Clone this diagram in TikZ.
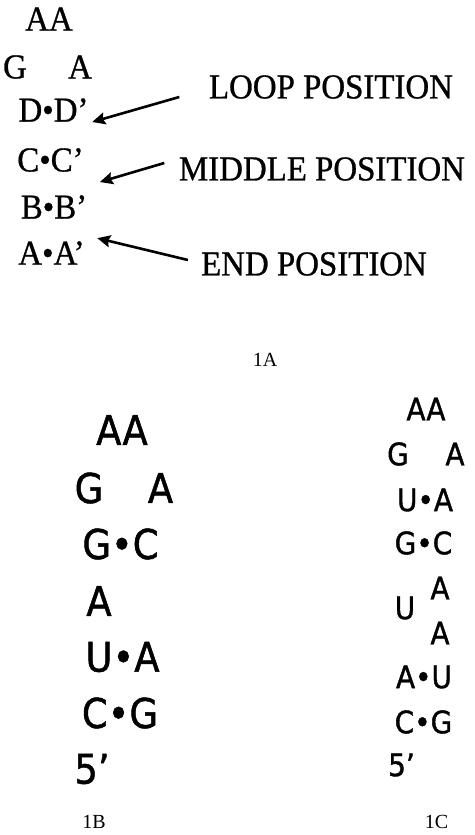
\documentclass[tikz,border=0pt]{standalone}
\usepackage{fontspec}
\setmainfont{Liberation Serif}
\newfontfamily\pairfont{Liberation Serif}[FakeStretch=0.94,FakeBold=0.8]
\newfontfamily\rnafont{DejaVu Sans Condensed}[FakeBold=1.2]
\usetikzlibrary{arrows.meta}

\tikzset{
  pairA/.style={inner sep=0, font=\pairfont\fontsize{35}{35}\selectfont},
  posname/.style={inner sep=0, font=\pairfont\fontsize{35}{35}\selectfont},
  stemB/.style={inner sep=0, font=\rnafont\fontsize{41}{41}\selectfont},
  stemC/.style={inner sep=0, font=\rnafont\fontsize{31}{31}\selectfont},
  panel/.style={inner sep=0, font=\fontsize{20}{20}\selectfont},
  pointer/.style={-{Stealth[length=13pt,width=12pt,inset=2pt]}, line width=2.6pt}
}

\begin{document}
\begin{tikzpicture}[x=1pt, y=-1pt]
\useasboundingbox (0,0) rectangle (474,835);

% 1A: generic hairpin
\node [pairA] (loopaa) at (49,19)  {AA};
\node [pairA] (loopg)  at (15,67)  {G};
\node [pairA] (loopa)  at (80,67)  {A};
\node [pairA] (dd)     at (53.5,110) {D•D’};
\node [pairA] (cc)     at (50.5,160) {C•C’};
\node [pairA] (bb)     at (54,207) {B•B’};
\node [pairA] (aa)     at (51.5,253) {A•A’};

\node [posname] (loop)   at (331,87)  {LOOP POSITION};
\node [posname] (middle) at (322,169) {MIDDLE POSITION};
\node [posname] (endpos) at (314,264) {END POSITION};

\draw [pointer] ([xshift=-29.5pt,yshift=-10pt]loop.west) -- ([xshift=3.5pt,yshift=-12pt]dd.east);
\draw [pointer] ([xshift=-14.5pt,yshift=6pt]middle.west) -- ([xshift=16pt,yshift=-10pt]cc.south east);
\draw [pointer] ([xshift=-13pt,yshift=4pt]endpos.west) -- ([xshift=12.4pt,yshift=3pt]aa.north east);

\node [panel] (tagA) at (265,360) {1A};

% 1B
\node [stemB] (baa)  at (122,430) {AA};
\node [stemB] (bg)   at (89,488)  {G};
\node [stemB] (ba)   at (160.5,488) {A};
\node [stemB] (bgc)  at (120.5,544) {G•C};
\node [stemB] (bbul) at (99,601)  {A};
\node [stemB] (bua)  at (122.5,657) {U•A};
\node [stemB] (bcg)  at (120,713) {C•G};
\node [stemB] (bend) at (92,769)  {5’};
\node [panel] (tagB) at (94,822) {1B};

% 1C
\node [stemC] (caa)  at (426,409) {AA};
\node [stemC] (cg)   at (398,454) {G};
\node [stemC] (ca)   at (455,454) {A};
\node [stemC] (cua)  at (425,500) {U•A};
\node [stemC] (cgc)  at (423.5,543) {G•C};
\node [stemC] (cbtop) at (440,588) {A};
\node [stemC] (cbu)  at (405,608) {U};
\node [stemC] (cblow) at (440,633) {A};
\node [stemC] (cau)  at (424,677) {A•U};
\node [stemC] (ccg)  at (423.5,722) {C•G};
\node [stemC] (cend) at (401.5,765) {5’};
\node [panel] (tagC) at (436.5,822) {1C};
\end{tikzpicture}
\end{document}
